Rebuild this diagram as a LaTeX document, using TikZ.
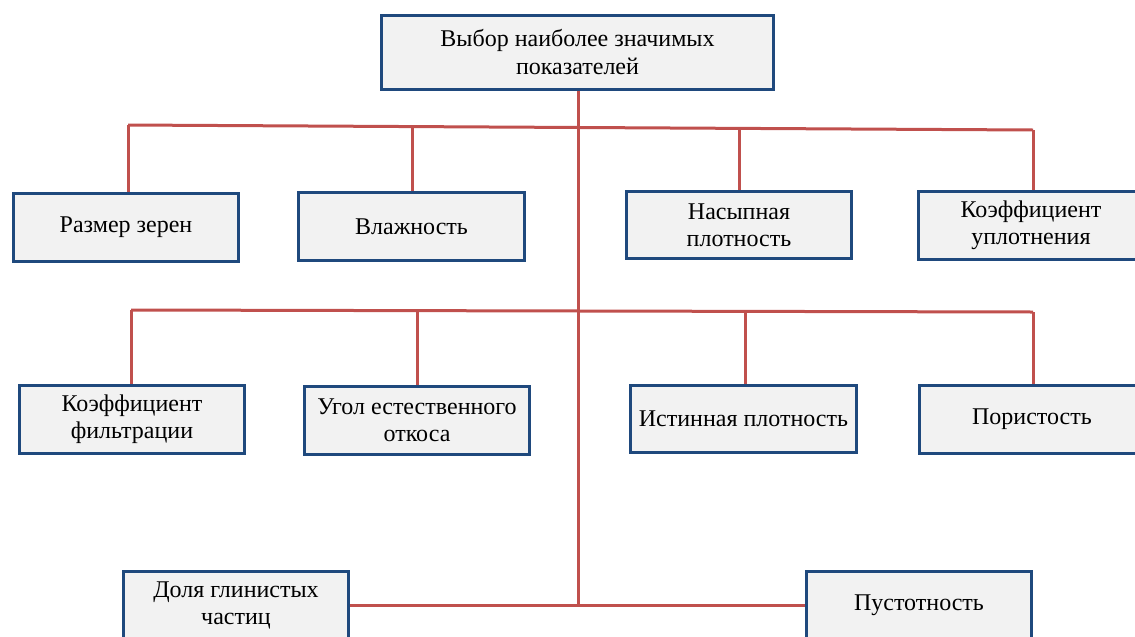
\documentclass[tikz,border=0pt]{standalone}
\usepackage{fontspec}
\setmainfont{Liberation Serif}
\usetikzlibrary{positioning}
\definecolor{boxblue}{RGB}{31,73,125}
\definecolor{boxfill}{RGB}{242,242,242}
\definecolor{linkred}{RGB}{192,80,77}

\begin{document}
\begin{tikzpicture}[x=0.75pt, y=-0.75pt,
    box/.style={draw=boxblue, fill=boxfill, line width=2.25pt, align=center, inner sep=0pt,
        minimum width=169pt, minimum height=50.5pt, font=\fontsize{18}{20.5}\selectfont},
    link/.style={draw=linkred, line width=2.25pt}]
    \useasboundingbox (0,0) rectangle (1135,636);

    \node (goal) [box, minimum width=294.5pt, minimum height=55.5pt] at (577.5,52) {Выбор наиболее значимых\\показателей};

    \node (size) [box] at (126,227.5) {Размер зерен};
    \node (moist) [box] at (411.5,226.5) {Влажность};
    \node (bulk) [box] at (739,225) {Насыпная\\плотность};
    \node (compact) [box] at (1031,225.5) {Коэффициент\\уплотнения};

    \node (filt) [box] at (132,419.5) {Коэффициент\\фильтрации};
    \node (angle) [box] at (417,420.5) {Угол естественного\\откоса};
    \node (dens) [box] at (743.5,419) {Истинная плотность};
    \node (poros) [box] at (1032,419.5) {Пористость};

    \node (clay) [box] at (236,605.5) {Доля глинистых\\частиц};
    \node (void) [box] at (919,605.5) {Пустотность};

    \coordinate (a1) at (128,125);
    \coordinate (a2) at (412,126.6);
    \coordinate (a3) at (739,128.4);
    \coordinate (a4) at (1033,130);
    \coordinate (b1) at (131,310);
    \coordinate (b2) at (417,310.6);
    \coordinate (b3) at (745,311.4);
    \coordinate (b4) at (1033,312);
    \coordinate (c0) at (578,605);

    \draw[link] (goal.south -| c0) -- (c0);
    \draw[link] (a1) -- (a4);
    \draw[link] (b1) -- (b4);
    \draw[link] (a1) -- (a1 |- size.north);
    \draw[link] (a2) -- (a2 |- moist.north);
    \draw[link] (a3) -- (a3 |- bulk.north);
    \draw[link] (a4) -- (a4 |- compact.north);
    \draw[link] (b1) -- (b1 |- filt.north);
    \draw[link] (b2) -- (b2 |- angle.north);
    \draw[link] (b3) -- (b3 |- dens.north);
    \draw[link] (b4) -- (b4 |- poros.north);
    \draw[link] (clay.east) -- (void.west);
\end{tikzpicture}
\end{document}
